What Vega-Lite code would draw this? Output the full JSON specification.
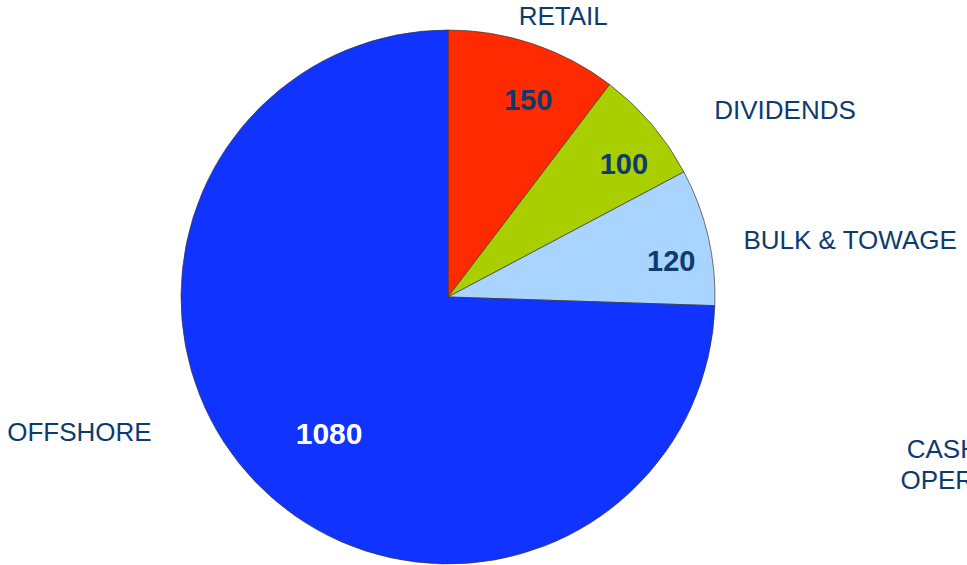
{
  "$schema": "https://vega.github.io/schema/vega-lite/v6.json",
  "autosize": "none",
  "padding": {"left": 0, "top": 0, "right": 71, "bottom": 0},
  "width": 896,
  "height": 594,
  "background": "white",
  "config": {"view": {"stroke": null}, "font": "Liberation Sans"},
  "data": {
    "values": [
      {"segment": "CASH FROM OPERATIONS", "amount": 0},
      {"segment": "RETAIL", "amount": 150},
      {"segment": "DIVIDENDS", "amount": 100},
      {"segment": "BULK & TOWAGE", "amount": 120},
      {"segment": "OFFSHORE", "amount": 1080}
    ]
  },
  "transform": [{"window": [{"op": "row_number", "as": "rank"}]}],
  "encoding": {
    "theta": {"field": "amount", "type": "quantitative", "stack": true},
    "order": {"field": "rank", "type": "quantitative"},
    "detail": {"field": "segment", "type": "nominal"}
  },
  "layer": [
    {
      "mark": {"type": "arc", "outerRadius": 267, "stroke": "#3a3a3a", "strokeWidth": 0.7},
      "encoding": {
        "color": {
          "field": "segment",
          "type": "nominal",
          "scale": {
            "domain": ["CASH FROM OPERATIONS", "RETAIL", "DIVIDENDS", "BULK & TOWAGE", "OFFSHORE"],
            "range": ["#ffffff", "#ff2a00", "#aacf00", "#a8d4ff", "#1033ff"]
          },
          "legend": null
        }
      }
    },
    {
      "mark": {"type": "text", "radius": 212, "thetaOffset": 0.0625, "fontSize": 29, "fontWeight": "bold", "color": "#0d3b6e", "align": "center", "baseline": "middle"},
      "encoding": {"text": {"condition": {"test": "datum.segment == 'RETAIL'", "field": "amount", "type": "quantitative"}, "value": ""}}
    },
    {
      "mark": {"type": "text", "radius": 220, "thetaOffset": 0.06, "fontSize": 29, "fontWeight": "bold", "color": "#0d3b6e", "align": "center", "baseline": "middle"},
      "encoding": {"text": {"condition": {"test": "datum.segment == 'DIVIDENDS'", "field": "amount", "type": "quantitative"}, "value": ""}}
    },
    {
      "mark": {"type": "text", "radius": 226, "thetaOffset": 0.072, "fontSize": 29, "fontWeight": "bold", "color": "#0d3b6e", "align": "center", "baseline": "middle"},
      "encoding": {"text": {"condition": {"test": "datum.segment == 'BULK & TOWAGE'", "field": "amount", "type": "quantitative"}, "value": ""}}
    },
    {
      "mark": {"type": "text", "radius": 182, "thetaOffset": -0.0895, "fontSize": 30, "fontWeight": "bold", "color": "#ffffff", "align": "center", "baseline": "middle"},
      "encoding": {"text": {"condition": {"test": "datum.segment == 'OFFSHORE'", "field": "amount", "type": "quantitative"}, "value": ""}}
    },
    {
      "mark": {"type": "text", "radius": 303, "thetaOffset": 0.065, "fontSize": 26, "color": "#0d3b6e", "align": "center", "baseline": "middle"},
      "encoding": {"text": {"condition": {"test": "datum.segment == 'RETAIL'", "field": "segment", "type": "nominal"}, "value": ""}}
    },
    {
      "mark": {"type": "text", "radius": 385, "thetaOffset": 0.1997, "fontSize": 26, "color": "#0d3b6e", "align": "center", "baseline": "middle"},
      "encoding": {"text": {"condition": {"test": "datum.segment == 'DIVIDENDS'", "field": "segment", "type": "nominal"}, "value": ""}}
    },
    {
      "mark": {"type": "text", "radius": 406, "thetaOffset": 0.0895, "fontSize": 26, "color": "#0d3b6e", "align": "center", "baseline": "middle"},
      "encoding": {"text": {"condition": {"test": "datum.segment == 'BULK & TOWAGE'", "field": "segment", "type": "nominal"}, "value": ""}}
    },
    {
      "mark": {"type": "text", "radius": 393, "thetaOffset": 0.4149, "fontSize": 26, "color": "#0d3b6e", "align": "center", "baseline": "middle"},
      "encoding": {"text": {"condition": {"test": "datum.segment == 'OFFSHORE'", "field": "segment", "type": "nominal"}, "value": ""}}
    },
    {
      "mark": {"type": "text", "radius": 558, "thetaOffset": 1.848, "fontSize": 26, "color": "#0d3b6e", "align": "center", "baseline": "middle", "lineBreak": "\n", "lineHeight": 31.5},
      "encoding": {"text": {"condition": {"test": "datum.segment == 'CASH FROM OPERATIONS'", "value": "CASH FROM\nOPERATIONS"}, "value": ""}}
    }
  ]
}
